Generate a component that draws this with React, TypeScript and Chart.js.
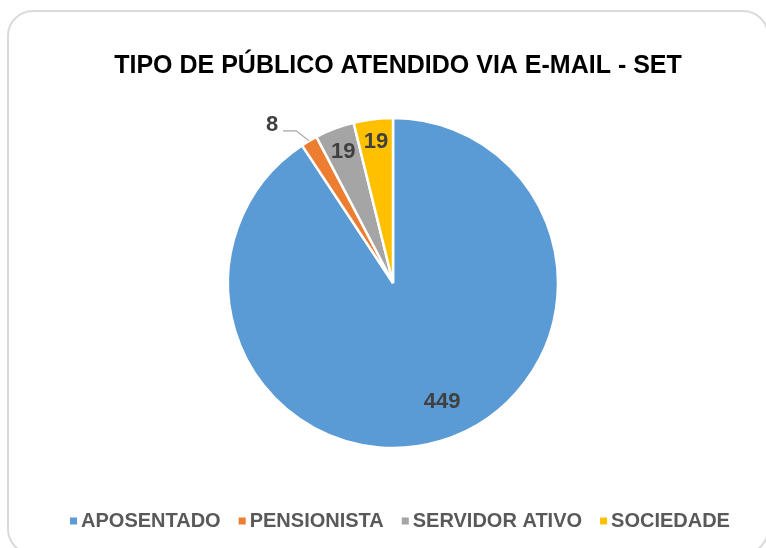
import React, { useEffect, useRef } from "react";
import { Chart, registerables } from "chart.js";

Chart.register(...registerables);

const categories = ["APOSENTADO", "PENSIONISTA", "SERVIDOR ATIVO", "SOCIEDADE"];
const values = [449, 8, 19, 19];
const colors = ["#5B9BD5", "#ED7D31", "#A5A5A5", "#FFC000"];
const titleText = "TIPO DE PÚBLICO ATENDIDO VIA E-MAIL - SET";

const FONT = "'Liberation Sans', Arial, sans-serif";

// label placement styles per slice (radius fraction, angle shift in degrees, outside flag)
const labelPlacement = [
  { r: 0.78, shift: -5.7, outside: false },
  { r: 1, shift: 0, outside: true },
  { r: 0.852, shift: 0, outside: false },
  { r: 0.86, shift: 0, outside: false },
];

const titlePlugin = {
  id: "customTitle",
  afterDraw(chart: any) {
    const ctx = chart.ctx;
    ctx.save();
    ctx.font = `bold 25px ${FONT}`;
    ctx.fillStyle = "#000000";
    ctx.textAlign = "center";
    ctx.textBaseline = "middle";
    ctx.fillText(titleText, 398, 66);
    ctx.restore();
  },
};

const dataLabelPlugin = {
  id: "dataLabels",
  afterDatasetsDraw(chart: any) {
    const ctx = chart.ctx;
    const meta = chart.getDatasetMeta(0);
    const ds = chart.data.datasets[0];
    ctx.save();
    ctx.font = `bold 22px ${FONT}`;
    ctx.fillStyle = "#404040";
    ctx.textBaseline = "middle";
    meta.data.forEach((arc: any, i: number) => {
      const p = arc.getProps(["x", "y", "startAngle", "endAngle", "outerRadius"], true);
      const place = labelPlacement[i];
      const mid = (p.startAngle + p.endAngle) / 2 + (place.shift * Math.PI) / 180;
      const text = String(ds.data[i]);
      if (!place.outside) {
        const rr = p.outerRadius * place.r;
        ctx.textAlign = "center";
        ctx.fillText(text, p.x + Math.cos(mid) * rr, p.y + Math.sin(mid) * rr);
      } else {
        const ex = p.x + Math.cos(mid) * p.outerRadius;
        const ey = p.y + Math.sin(mid) * p.outerRadius;
        const bx = ex - 13;
        const by = ey - 10;
        const tx = bx - 13;
        ctx.strokeStyle = "#A6A6A6";
        ctx.lineWidth = 1.2;
        ctx.beginPath();
        ctx.moveTo(ex, ey);
        ctx.lineTo(bx, by);
        ctx.lineTo(tx, by);
        ctx.stroke();
        ctx.textAlign = "right";
        ctx.fillText(text, tx - 5, by - 6);
      }
    });
    ctx.restore();
  },
};

const legendPlugin = {
  id: "customLegend",
  afterDraw(chart: any) {
    const ctx = chart.ctx;
    ctx.save();
    ctx.font = `bold 20px ${FONT}`;
    ctx.textBaseline = "middle";
    ctx.textAlign = "left";
    const box = 7;
    const gap = 4;
    const itemGap = 18;
    const widths = categories.map((c) => ctx.measureText(c).width);
    const total =
      widths.reduce((a, b) => a + b, 0) + categories.length * (box + gap) + (categories.length - 1) * itemGap;
    let x = 400 - total / 2;
    const y = 521;
    categories.forEach((c, i) => {
      ctx.fillStyle = colors[i];
      ctx.fillRect(x, y - box / 2, box, box);
      x += box + gap;
      ctx.fillStyle = "#595959";
      ctx.fillText(c, x, y);
      x += widths[i] + itemGap;
    });
    ctx.restore();
  },
};

export default function App() {
  const ref = useRef<HTMLCanvasElement | null>(null);
  useEffect(() => {
    document.body.style.margin = "0";
    if (!ref.current) return;
    const chart = new Chart(ref.current, {
      type: "pie",
      data: {
        labels: categories,
        datasets: [
          {
            data: values,
            backgroundColor: colors,
            borderColor: "#FFFFFF",
            borderWidth: 2.5,
          },
        ],
      },
      options: {
        animation: false,
        responsive: false,
        radius: 165,
        layout: { padding: { top: 80, bottom: 62, left: 20, right: 0 } },
        plugins: {
          legend: { display: false },
          tooltip: { enabled: false },
          title: { display: false },
        },
      } as any,
      plugins: [dataLabelPlugin, legendPlugin, titlePlugin],
    });
    return () => chart.destroy();
  }, []);
  return (
    <div style={{ position: "absolute", left: 0, top: 0, width: 766, height: 548, overflow: "hidden", background: "#fff" }}>
      <div
        style={{
          position: "absolute",
          left: 7,
          top: 10,
          width: 762,
          height: 545,
          border: "2px solid #DADADA",
          borderRadius: 26,
          boxSizing: "border-box",
        }}
      />
      <canvas ref={ref} width={766} height={548} style={{ position: "absolute", left: 0, top: 0 }} />
    </div>
  );
}
